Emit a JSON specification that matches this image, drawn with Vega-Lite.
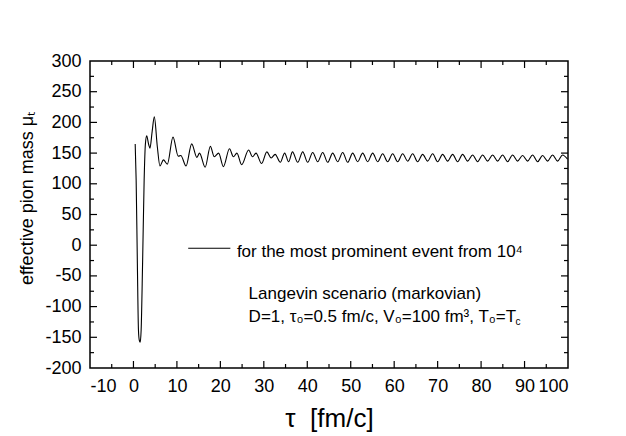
{
  "$schema": "https://vega.github.io/schema/vega-lite/v6.json",
  "width": 478,
  "height": 307,
  "autosize": {"type": "none"},
  "padding": {"left": 90, "top": 61, "right": 58, "bottom": 68},
  "background": "white",
  "config": {
    "view": {"stroke": "black", "strokeWidth": 1.5},
    "font": "Liberation Sans",
    "axis": {"labelFont": "Liberation Sans", "titleFont": "Liberation Sans", "labelColor": "black", "titleColor": "black", "grid": false, "titleFontWeight": "normal"}
  },
  "datasets": {
    "curve": [
      {"tau": 0.4, "mu": 165}, {"tau": 0.62, "mu": 106}, {"tau": 0.9, "mu": -30}, {"tau": 1.15, "mu": -138},
      {"tau": 1.35, "mu": -155}, {"tau": 1.55, "mu": -158}, {"tau": 1.77, "mu": -138}, {"tau": 2.1, "mu": -30},
      {"tau": 2.46, "mu": 106}, {"tau": 2.75, "mu": 165}, {"tau": 3.05, "mu": 178}, {"tau": 3.5, "mu": 164},
      {"tau": 3.8, "mu": 158}, {"tau": 4.3, "mu": 185}, {"tau": 4.8, "mu": 209}, {"tau": 5.5, "mu": 160},
      {"tau": 6.1, "mu": 129}, {"tau": 6.9, "mu": 139}, {"tau": 7.8, "mu": 132}, {"tau": 9.1, "mu": 176},
      {"tau": 10.3, "mu": 145}, {"tau": 10.9, "mu": 146}, {"tau": 12.1, "mu": 129}, {"tau": 13.4, "mu": 165},
      {"tau": 14.6, "mu": 143}, {"tau": 15.2, "mu": 150}, {"tau": 16.5, "mu": 127}, {"tau": 17.7, "mu": 161},
      {"tau": 18.6, "mu": 144}, {"tau": 19.6, "mu": 150}, {"tau": 20.7, "mu": 128}, {"tau": 22.1, "mu": 157},
      {"tau": 23.0, "mu": 144}, {"tau": 23.8, "mu": 150}, {"tau": 24.9, "mu": 131}, {"tau": 26.5, "mu": 155},
      {"tau": 27.4, "mu": 144}, {"tau": 28.2, "mu": 150}, {"tau": 29.5, "mu": 133}, {"tau": 30.7, "mu": 152},
      {"tau": 31.7, "mu": 142}, {"tau": 32.6, "mu": 148}, {"tau": 33.8, "mu": 135}, {"tau": 34.8, "mu": 150},
      {"tau": 35.7, "mu": 136}, {"tau": 36.6, "mu": 152}, {"tau": 37.8, "mu": 135}, {"tau": 38.95, "mu": 152},
      {"tau": 40.1, "mu": 135}, {"tau": 41.25, "mu": 151}, {"tau": 42.4, "mu": 136}, {"tau": 43.55, "mu": 151},
      {"tau": 44.7, "mu": 135}, {"tau": 45.85, "mu": 150}, {"tau": 47.0, "mu": 136}, {"tau": 48.15, "mu": 151},
      {"tau": 49.3, "mu": 135}, {"tau": 50.45, "mu": 150}, {"tau": 51.6, "mu": 136}, {"tau": 52.75, "mu": 150},
      {"tau": 53.9, "mu": 136}, {"tau": 55.05, "mu": 150}, {"tau": 56.2, "mu": 136}, {"tau": 57.35, "mu": 149},
      {"tau": 58.5, "mu": 136}, {"tau": 59.65, "mu": 149}, {"tau": 60.8, "mu": 136}, {"tau": 61.95, "mu": 149},
      {"tau": 63.1, "mu": 137}, {"tau": 64.25, "mu": 149}, {"tau": 65.4, "mu": 136}, {"tau": 66.55, "mu": 148},
      {"tau": 67.7, "mu": 137}, {"tau": 68.85, "mu": 149}, {"tau": 70.0, "mu": 136}, {"tau": 71.15, "mu": 148},
      {"tau": 72.3, "mu": 137}, {"tau": 73.45, "mu": 148}, {"tau": 74.6, "mu": 136}, {"tau": 75.75, "mu": 148},
      {"tau": 76.9, "mu": 137}, {"tau": 78.05, "mu": 147}, {"tau": 79.2, "mu": 136}, {"tau": 80.35, "mu": 147},
      {"tau": 81.5, "mu": 137}, {"tau": 82.65, "mu": 147}, {"tau": 83.8, "mu": 137}, {"tau": 84.95, "mu": 147},
      {"tau": 86.1, "mu": 136}, {"tau": 87.25, "mu": 147}, {"tau": 88.4, "mu": 137}, {"tau": 89.55, "mu": 146},
      {"tau": 90.7, "mu": 137}, {"tau": 91.85, "mu": 147}, {"tau": 93.0, "mu": 136}, {"tau": 94.15, "mu": 146},
      {"tau": 95.3, "mu": 137}, {"tau": 96.45, "mu": 147}, {"tau": 97.6, "mu": 137}, {"tau": 98.75, "mu": 147},
      {"tau": 99.9, "mu": 140}
    ],
    "xmajor": [{"v": 0}, {"v": 10}, {"v": 20}, {"v": 30}, {"v": 40}, {"v": 50}, {"v": 60}, {"v": 70}, {"v": 80}, {"v": 90}],
    "xminor": [{"v": -5}, {"v": 5}, {"v": 15}, {"v": 25}, {"v": 35}, {"v": 45}, {"v": 55}, {"v": 65}, {"v": 75}, {"v": 85}, {"v": 95}],
    "ymajor": [{"v": -150}, {"v": -100}, {"v": -50}, {"v": 0}, {"v": 50}, {"v": 100}, {"v": 150}, {"v": 200}, {"v": 250}],
    "yminor": [{"v": -175}, {"v": -125}, {"v": -75}, {"v": -25}, {"v": 25}, {"v": 75}, {"v": 125}, {"v": 175}, {"v": 225}, {"v": 275}],
    "legendline": [{"tau": 12.6, "tau2": 22.3, "mu": -5}],
    "notes": [
      {"tau": 23.8, "mu": -18.7, "label": "for the most prominent event from 10⁴"},
      {"tau": 26.5, "mu": -87.6, "label": "Langevin scenario (markovian)"},
      {"tau": 26.5, "mu": -124.6, "label": "D=1, τ₀=0.5 fm/c, V₀=100 fm³, T₀=T"}
    ],
    "subs": [{"tau": 87.9, "mu": -130.5, "label": "c"}]
  },
  "layer": [
    {
      "data": {"name": "curve"},
      "mark": {"type": "line", "color": "black", "strokeWidth": 1.1, "interpolate": "monotone"},
      "encoding": {
        "x": {"field": "tau", "type": "quantitative", "scale": {"domain": [-10, 100], "nice": false, "zero": false},
          "axis": {"orient": "bottom", "values": [-10, 0, 10, 20, 30, 40, 50, 60, 70, 80, 90, 100], "ticks": false, "domain": false, "labelFontSize": 18, "labelPadding": 9, "labelExpr": "'' + datum.value", "title": "τ\u00a0\u00a0[fm/c]", "titleFontSize": 26, "titlePadding": 10}},
        "y": {"field": "mu", "type": "quantitative", "scale": {"domain": [-200, 300], "nice": false, "zero": false},
          "axis": {"orient": "left", "values": [-200, -150, -100, -50, 0, 50, 100, 150, 200, 250, 300], "ticks": false, "domain": false, "labelFontSize": 18, "labelPadding": 9, "labelExpr": "'' + datum.value", "title": "effective pion mass μₜ", "titleFontSize": 18, "titlePadding": 8, "titleY": 137}}
      }
    },
    {
      "data": {"name": "xmajor"},
      "mark": {"type": "tick", "orient": "vertical", "size": 7, "thickness": 1.2, "color": "black", "opacity": 1, "yOffset": -3.5},
      "encoding": {
        "x": {"field": "v", "type": "quantitative", "axis": null},
        "y": {"datum": -200, "type": "quantitative", "axis": null}
      }
    },
    {
      "data": {"name": "xmajor"},
      "mark": {"type": "tick", "orient": "vertical", "size": 7, "thickness": 1.2, "color": "black", "opacity": 1, "yOffset": 3.5},
      "encoding": {
        "x": {"field": "v", "type": "quantitative", "axis": null},
        "y": {"datum": 300, "type": "quantitative", "axis": null}
      }
    },
    {
      "data": {"name": "xminor"},
      "mark": {"type": "tick", "orient": "vertical", "size": 4, "thickness": 1.2, "color": "black", "opacity": 1, "yOffset": -2},
      "encoding": {
        "x": {"field": "v", "type": "quantitative", "axis": null},
        "y": {"datum": -200, "type": "quantitative", "axis": null}
      }
    },
    {
      "data": {"name": "xminor"},
      "mark": {"type": "tick", "orient": "vertical", "size": 4, "thickness": 1.2, "color": "black", "opacity": 1, "yOffset": 2},
      "encoding": {
        "x": {"field": "v", "type": "quantitative", "axis": null},
        "y": {"datum": 300, "type": "quantitative", "axis": null}
      }
    },
    {
      "data": {"name": "ymajor"},
      "mark": {"type": "tick", "orient": "horizontal", "size": 7, "thickness": 1.2, "color": "black", "opacity": 1, "xOffset": 3.5},
      "encoding": {
        "x": {"datum": -10, "type": "quantitative", "axis": null},
        "y": {"field": "v", "type": "quantitative", "axis": null}
      }
    },
    {
      "data": {"name": "ymajor"},
      "mark": {"type": "tick", "orient": "horizontal", "size": 7, "thickness": 1.2, "color": "black", "opacity": 1, "xOffset": -3.5},
      "encoding": {
        "x": {"datum": 100, "type": "quantitative", "axis": null},
        "y": {"field": "v", "type": "quantitative", "axis": null}
      }
    },
    {
      "data": {"name": "yminor"},
      "mark": {"type": "tick", "orient": "horizontal", "size": 4, "thickness": 1.2, "color": "black", "opacity": 1, "xOffset": 2},
      "encoding": {
        "x": {"datum": -10, "type": "quantitative", "axis": null},
        "y": {"field": "v", "type": "quantitative", "axis": null}
      }
    },
    {
      "data": {"name": "yminor"},
      "mark": {"type": "tick", "orient": "horizontal", "size": 4, "thickness": 1.2, "color": "black", "opacity": 1, "xOffset": -2},
      "encoding": {
        "x": {"datum": 100, "type": "quantitative", "axis": null},
        "y": {"field": "v", "type": "quantitative", "axis": null}
      }
    },
    {
      "data": {"name": "legendline"},
      "mark": {"type": "rule", "color": "black", "strokeWidth": 1.1},
      "encoding": {
        "x": {"field": "tau", "type": "quantitative", "axis": null},
        "x2": {"field": "tau2"},
        "y": {"field": "mu", "type": "quantitative", "axis": null}
      }
    },
    {
      "data": {"name": "notes"},
      "mark": {"type": "text", "align": "left", "baseline": "alphabetic", "fontSize": 17, "font": "Liberation Sans", "color": "black"},
      "encoding": {
        "x": {"field": "tau", "type": "quantitative", "axis": null},
        "y": {"field": "mu", "type": "quantitative", "axis": null},
        "text": {"field": "label"}
      }
    },
    {
      "data": {"name": "subs"},
      "mark": {"type": "text", "align": "left", "baseline": "alphabetic", "fontSize": 10, "font": "Liberation Sans", "color": "black"},
      "encoding": {
        "x": {"field": "tau", "type": "quantitative", "axis": null},
        "y": {"field": "mu", "type": "quantitative", "axis": null},
        "text": {"field": "label"}
      }
    }
  ],
  "resolve": {"axis": {"x": "independent", "y": "independent"}}
}
